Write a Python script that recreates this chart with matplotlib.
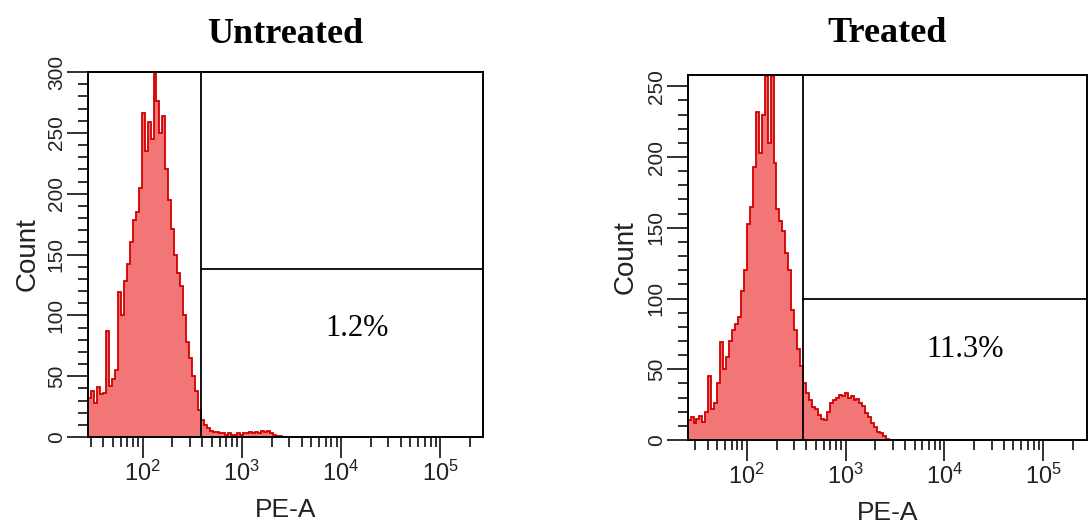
import numpy as np
import matplotlib
matplotlib.use("Agg")
import matplotlib.pyplot as plt
from matplotlib.ticker import LogLocator, MultipleLocator

plt.rcParams['font.family'] = ['Liberation Sans', 'DejaVu Sans']
plt.rcParams['mathtext.fontset'] = 'custom'
plt.rcParams['mathtext.rm'] = 'Liberation Sans'

# histogram bins: log10(PE-A) lower edge of first bin, bin width in log10 units
bin_width = 0.03
untreated_start = 1.45
treated_start = 1.40

untreated_counts = [
    32, 38, 28, 41, 35, 36, 87, 42, 48, 55,
    119, 100, 128, 142, 160, 178, 185, 205, 266, 235,
    259, 245, 300, 276, 250, 264, 220, 195, 171, 150,
    135, 124, 100, 78, 65, 50, 38, 22, 14, 10,
    7, 5, 4, 4, 3, 3, 2, 3, 2, 2,
    3, 2, 3, 3, 4, 3, 4, 3, 5, 4,
    5, 3, 2, 1, 1, 0,
]
treated_counts = [
    14, 16, 12, 15, 17, 13, 20, 45, 22, 26,
    40, 69, 50, 59, 70, 78, 82, 87, 105, 120,
    153, 165, 193, 232, 203, 230, 257, 210, 257, 196,
    163, 155, 148, 132, 120, 92, 78, 64, 52, 40,
    33, 28, 23, 22, 18, 15, 14, 20, 26, 28,
    30, 32, 31, 33, 30, 31, 28, 29, 26, 24,
    19, 16, 12, 9, 6, 5, 3, 1, 0,
]

titles = ["Untreated", "Treated"]
gate_pct = ["1.2%", "11.3%"]
gate_x = [390, 370]          # PE-A position of vertical gate line
gate_y = [138, 100]          # count level of horizontal gate line
pct_pos = [(10**4.16, 83), (10**4.21, 59)]
x_limits = [(10**1.45, 10**5.43), (10**1.404, 10**5.444)]
y_max = [300, 258]

fill_col = '#f27676'
edge_col = '#d00000'

fig = plt.figure(figsize=(10.91, 5.30), dpi=100)
ax_l = fig.add_axes([88/1091, 93/530, 395/1091, 365/530])
ax_r = fig.add_axes([688/1091, 90/530, 399/1091, 365/530])

panels = [
    (ax_l, untreated_start, untreated_counts),
    (ax_r, treated_start, treated_counts),
]

for i, (ax, start, counts) in enumerate(panels):
    counts = np.array(counts)
    edges = 10 ** (start + bin_width * np.arange(len(counts) + 1))
    ax.stairs(counts, edges, fill=True, color=fill_col, zorder=1)
    ax.stairs(counts, edges, color=edge_col, lw=1.3, zorder=2)

    ax.set_xscale('log')
    ax.set_xlim(*x_limits[i])
    ax.set_ylim(0, y_max[i])

    # gate
    ax.axvline(gate_x[i], color='black', lw=1.3, zorder=3)
    ax.plot([gate_x[i], x_limits[i][1]], [gate_y[i], gate_y[i]],
            color='black', lw=1.3, zorder=3)

    ax.xaxis.set_major_locator(LogLocator(base=10, numticks=10))
    ax.xaxis.set_minor_locator(LogLocator(base=10, subs=np.arange(2, 10), numticks=20))
    ax.yaxis.set_major_locator(MultipleLocator(50))
    ax.yaxis.set_minor_locator(MultipleLocator(10))

    ax.tick_params(axis='both', which='major', direction='out', length=15,
                   width=1.3, colors='#222222', labelsize=17)
    ax.tick_params(axis='both', which='minor', direction='out', length=7.5,
                   width=1.3, colors='#222222')
    ax.tick_params(axis='x', which='major', pad=2)
    ax.tick_params(axis='y', which='major', labelrotation=90, labelsize=15, pad=1)
    for lab in ax.get_yticklabels():
        lab.set_verticalalignment('center')

    for sp in ax.spines.values():
        sp.set_linewidth(1.4)
        sp.set_color('black')

    ax.set_xlabel('PE-A', fontsize=19, color='#222222', labelpad=9)
    ax.set_ylabel('Count', fontsize=20, color='#222222')
    ax.yaxis.set_label_coords(-0.12 if i == 0 else -0.125, 0.5)

    ax.set_title(titles[i], fontsize=26, fontweight='bold',
                 family='Liberation Serif', pad=21 if i == 0 else 24)

    ax.text(pct_pos[i][0], pct_pos[i][1], gate_pct[i], fontsize=22,
            family='Liberation Serif', ha='center', va='baseline')

fig.savefig('out.png', dpi=100)
